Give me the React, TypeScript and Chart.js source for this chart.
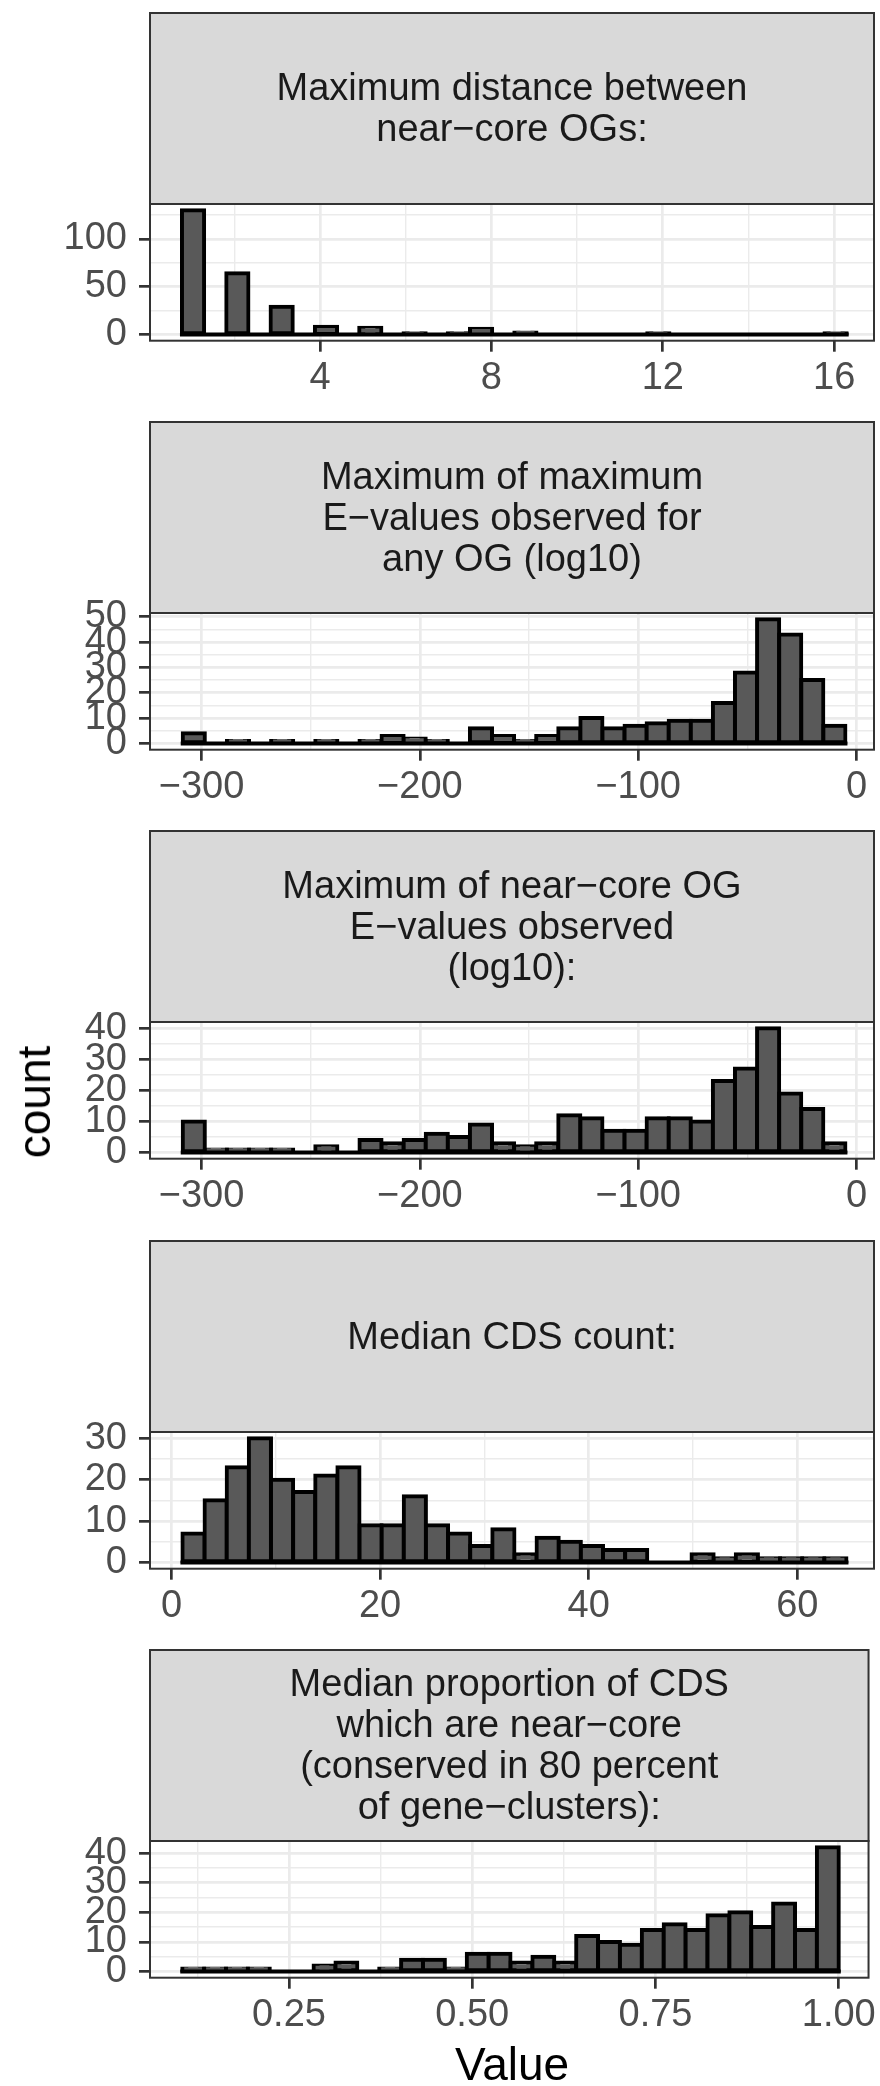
import React, { useEffect, useRef } from 'react';
import { Chart, registerables } from 'chart.js';

Chart.register(...registerables);

const FONT = '"Liberation Sans", Arial, Helvetica, sans-serif';

// ---------- data ----------
const titles1 = ['Maximum distance between', 'near−core OGs:'];
const titles2 = ['Maximum of maximum', 'E−values observed for', 'any OG (log10)'];
const titles3 = ['Maximum of near−core OG', 'E−values observed', '(log10):'];
const titles4 = ['Median CDS count:'];
const titles5 = ['Median proportion of CDS', 'which are near−core', '(conserved in 80 percent', 'of gene−clusters):'];

const counts1 = [130, 0, 64, 0, 29, 0, 8, 0, 7, 0, 1, 0, 1, 6, 0, 2, 0, 0, 0, 0, 0, 1, 0, 0, 0, 0, 0, 0, 0, 1];
const counts2 = [4, 0, 1, 0, 1, 0, 1, 0, 1, 3, 2, 1, 0, 6, 3, 1, 3, 6, 10, 6, 7, 8, 9, 9, 16, 28, 49, 43, 25, 7];
const counts3 = [10, 1, 1, 1, 1, 0, 2, 0, 4, 3, 4, 6, 5, 9, 3, 2, 3, 12, 11, 7, 7, 11, 11, 10, 23, 27, 40, 19, 14, 3];
const counts4 = [7, 15, 23, 30, 20, 17, 21, 23, 9, 9, 16, 9, 7, 4, 8, 2, 6, 5, 4, 3, 3, 0, 0, 2, 1, 2, 1, 1, 1, 1];
const counts5 = [1, 1, 1, 1, 0, 0, 2, 3, 0, 1, 4, 4, 1, 6, 6, 3, 5, 3, 12, 10, 9, 14, 16, 14, 19, 20, 15, 23, 14, 42];

// histogram bins: left edge of first bin and bin width (data units)
const binStarts = [0.776, -308.6, -308.6, 1.05, 0.1045];
const binWidths = [0.5172, 10.117, 10.117, 2.122, 0.02985];

// x axis limits (data units)
const xMins = [0.03, -323.6, -323.6, -2.06, 0.0605];
const xMaxs = [16.93, 8.0, 8.0, 67.35, 1.0406];

// x ticks
const xMajor1 = [4, 8, 12, 16];
const xMinor1 = [2, 6, 10, 14];
const xLabels1 = ['4', '8', '12', '16'];
const xMajor23 = [-300, -200, -100, 0];
const xMinor23 = [-250, -150, -50];
const xLabels23 = ['−300', '−200', '−100', '0'];
const xMajor4 = [0, 20, 40, 60];
const xMinor4 = [10, 30, 50];
const xLabels4 = ['0', '20', '40', '60'];
const xMajor5 = [0.25, 0.5, 0.75, 1.0];
const xMinor5 = [0.125, 0.375, 0.625, 0.875];
const xLabels5 = ['0.25', '0.50', '0.75', '1.00'];

// y ticks
const yMajor1 = [0, 50, 100];
const yMinor1 = [25, 75, 125];
const yMajor2 = [0, 10, 20, 30, 40, 50];
const yMinor2 = [5, 15, 25, 35, 45];
const yMajor3 = [0, 10, 20, 30, 40];
const yMinor3 = [5, 15, 25, 35];
const yMajor4 = [0, 10, 20, 30];
const yMinor4 = [5, 15, 25];
const yMajor5 = [0, 10, 20, 30, 40];
const yMinor5 = [5, 15, 25, 35];

const panels = [
  { titles: titles1, counts: counts1, xMajor: xMajor1, xMinor: xMinor1, xLabels: xLabels1, yMajor: yMajor1, yMinor: yMinor1 },
  { titles: titles2, counts: counts2, xMajor: xMajor23, xMinor: xMinor23, xLabels: xLabels23, yMajor: yMajor2, yMinor: yMinor2 },
  { titles: titles3, counts: counts3, xMajor: xMajor23, xMinor: xMinor23, xLabels: xLabels23, yMajor: yMajor3, yMinor: yMinor3 },
  { titles: titles4, counts: counts4, xMajor: xMajor4, xMinor: xMinor4, xLabels: xLabels4, yMajor: yMajor4, yMinor: yMinor4 },
  { titles: titles5, counts: counts5, xMajor: xMajor5, xMinor: xMinor5, xLabels: xLabels5, yMajor: yMajor5, yMinor: yMinor5 },
];

// ---------- layout ----------
const CANVAS_W = 880;
const CANVAS_H = 400;
const STRIP_TOP = 1;
const STRIP_H = 191;
const PLOT_H = 136.7;
const PANEL_TOP0 = 11.7;
const PANEL_STEP = 409.3;
const TICK_FONT = 38;
const STRIP_FONT = 38;
const STRIP_LINE = 41;
const STRIP_SHIFT = 2;

const near = (a: number, b: number) => Math.abs(a - b) < 1e-9;

function Panel({ idx }: { idx: number }) {
  const ref = useRef<HTMLCanvasElement | null>(null);

  useEffect(() => {
    const p = panels[idx];
    const start = binStarts[idx];
    const w = binWidths[idx];
    const pts = p.counts.map((c, i) => ({ x: start + (i + 0.5) * w, y: c }));
    const binLo = start;
    const binHi = start + p.counts.length * w;
    const maxC = Math.max(...p.counts);
    const isMajorX = (v: number) => p.xMajor.some((m) => near(m, v));
    const isMajorY = (v: number) => p.yMajor.some((m) => near(m, v));
    const xAll = [...p.xMajor, ...p.xMinor].sort((a, b) => a - b);
    const yAll = [...p.yMajor, ...p.yMinor].sort((a, b) => a - b);

    const stripPlugin = {
      id: 'facetStrip',
      afterDatasetsDraw(chart: any) {
        const { ctx, scales } = chart;
        const y0 = scales.y.getPixelForValue(0);
        const xa = scales.x.getPixelForValue(binLo);
        const xb = scales.x.getPixelForValue(binHi);
        ctx.save();
        ctx.strokeStyle = '#000000';
        ctx.lineWidth = 4;
        ctx.lineCap = 'square';
        ctx.beginPath();
        ctx.moveTo(xa, y0);
        ctx.lineTo(xb, y0);
        ctx.stroke();
        ctx.restore();
      },
      afterDraw(chart: any) {
        const { ctx, chartArea: a } = chart;
        const wArea = a.right - a.left;
        ctx.save();
        ctx.fillStyle = '#D9D9D9';
        ctx.fillRect(a.left, STRIP_TOP, wArea, a.top - STRIP_TOP);
        ctx.strokeStyle = '#333333';
        ctx.lineWidth = 2;
        ctx.strokeRect(a.left, STRIP_TOP, wArea, a.top - STRIP_TOP);
        ctx.strokeRect(a.left, a.top, wArea, a.bottom - a.top);
        ctx.fillStyle = '#1A1A1A';
        ctx.font = `${STRIP_FONT}px ${FONT}`;
        ctx.textAlign = 'center';
        ctx.textBaseline = 'middle';
        const cx = (a.left + a.right) / 2;
        const cy = (STRIP_TOP + a.top) / 2 + STRIP_SHIFT;
        const n = p.titles.length;
        p.titles.forEach((t, i) => {
          ctx.fillText(t, cx, cy + (i - (n - 1) / 2) * STRIP_LINE);
        });
        ctx.restore();
      },
    };

    const chart = new Chart(ref.current as HTMLCanvasElement, {
      type: 'bar',
      data: {
        datasets: [
          {
            data: pts as any,
            backgroundColor: '#595959',
            borderColor: '#000000',
            borderWidth: 4,
            borderSkipped: false,
            inflateAmount: 2,
            barPercentage: 1,
            categoryPercentage: 1,
          } as any,
        ],
      },
      options: {
        responsive: false,
        animation: false,
        devicePixelRatio: 1,
        layout: { padding: { top: STRIP_TOP + STRIP_H, right: 6, left: 0, bottom: 0 } },
        plugins: {
          legend: { display: false },
          tooltip: { enabled: false },
          title: { display: false },
        },
        scales: {
          x: {
            type: 'linear',
            min: xMins[idx],
            max: xMaxs[idx],
            bounds: 'data',
            offset: false,
            afterBuildTicks: (s: any) => {
              s.ticks = xAll.map((v) => ({ value: v }));
            },
            afterFit: (s: any) => {
              s.height = CANVAS_H - (STRIP_TOP + STRIP_H) - PLOT_H;
            },
            ticks: {
              autoSkip: false,
              maxRotation: 0,
              minRotation: 0,
              padding: 4,
              color: '#4D4D4D',
              font: { family: FONT, size: TICK_FONT },
              callback: (v: any) => {
                const k = p.xMajor.findIndex((m) => near(m, Number(v)));
                return k >= 0 ? p.xLabels[k] : '';
              },
            },
            grid: {
              offset: false,
              color: '#EBEBEB',
              lineWidth: (c: any) => (c.tick && isMajorX(c.tick.value) ? 2.7 : 1.4),
              tickLength: 11,
              tickWidth: 2.7,
              tickColor: (c: any) => (c.tick && isMajorX(c.tick.value) ? '#333333' : 'rgba(0,0,0,0)'),
            },
            border: { display: false },
          } as any,
          y: {
            type: 'linear',
            min: -0.05 * maxC,
            max: 1.05 * maxC,
            bounds: 'data',
            afterBuildTicks: (s: any) => {
              s.ticks = yAll.map((v) => ({ value: v }));
            },
            afterFit: (s: any) => {
              s.width = 150;
            },
            ticks: {
              autoSkip: false,
              padding: 12,
              color: '#4D4D4D',
              font: { family: FONT, size: TICK_FONT },
              callback: (v: any) => (isMajorY(Number(v)) ? String(v) : ''),
            },
            grid: {
              offset: false,
              color: '#EBEBEB',
              lineWidth: (c: any) => (c.tick && isMajorY(c.tick.value) ? 2.7 : 1.4),
              tickLength: 11,
              tickWidth: 2.7,
              tickColor: (c: any) => (c.tick && isMajorY(c.tick.value) ? '#333333' : 'rgba(0,0,0,0)'),
            },
            border: { display: false },
          } as any,
        },
      },
      plugins: [stripPlugin as any],
    });

    return () => chart.destroy();
  }, [idx]);

  const top = Math.round(PANEL_TOP0 + idx * PANEL_STEP);
  return (
    <canvas
      ref={ref}
      width={CANVAS_W}
      height={CANVAS_H}
      style={{ position: 'absolute', left: 0, top, width: CANVAS_W, height: CANVAS_H, display: 'block' }}
    />
  );
}

export default function App() {
  useEffect(() => {
    document.body.style.margin = '0';
    document.body.style.background = '#FFFFFF';
  }, []);

  return (
    <div style={{ position: 'relative', width: 880, height: 2086, background: '#FFFFFF', overflow: 'hidden' }}>
      {panels.map((_, i) => (
        <Panel key={i} idx={i} />
      ))}
      <div
        style={{
          position: 'absolute',
          left: 34,
          top: 1102,
          transform: 'translate(-50%, -50%) rotate(-90deg)',
          fontFamily: FONT,
          fontSize: 46,
          lineHeight: '46px',
          color: '#000000',
          whiteSpace: 'nowrap',
        }}
      >
        count
      </div>
      <div
        style={{
          position: 'absolute',
          left: 512,
          top: 2041,
          transform: 'translateX(-50%)',
          fontFamily: FONT,
          fontSize: 46,
          lineHeight: '46px',
          color: '#000000',
          whiteSpace: 'nowrap',
        }}
      >
        Value
      </div>
    </div>
  );
}
